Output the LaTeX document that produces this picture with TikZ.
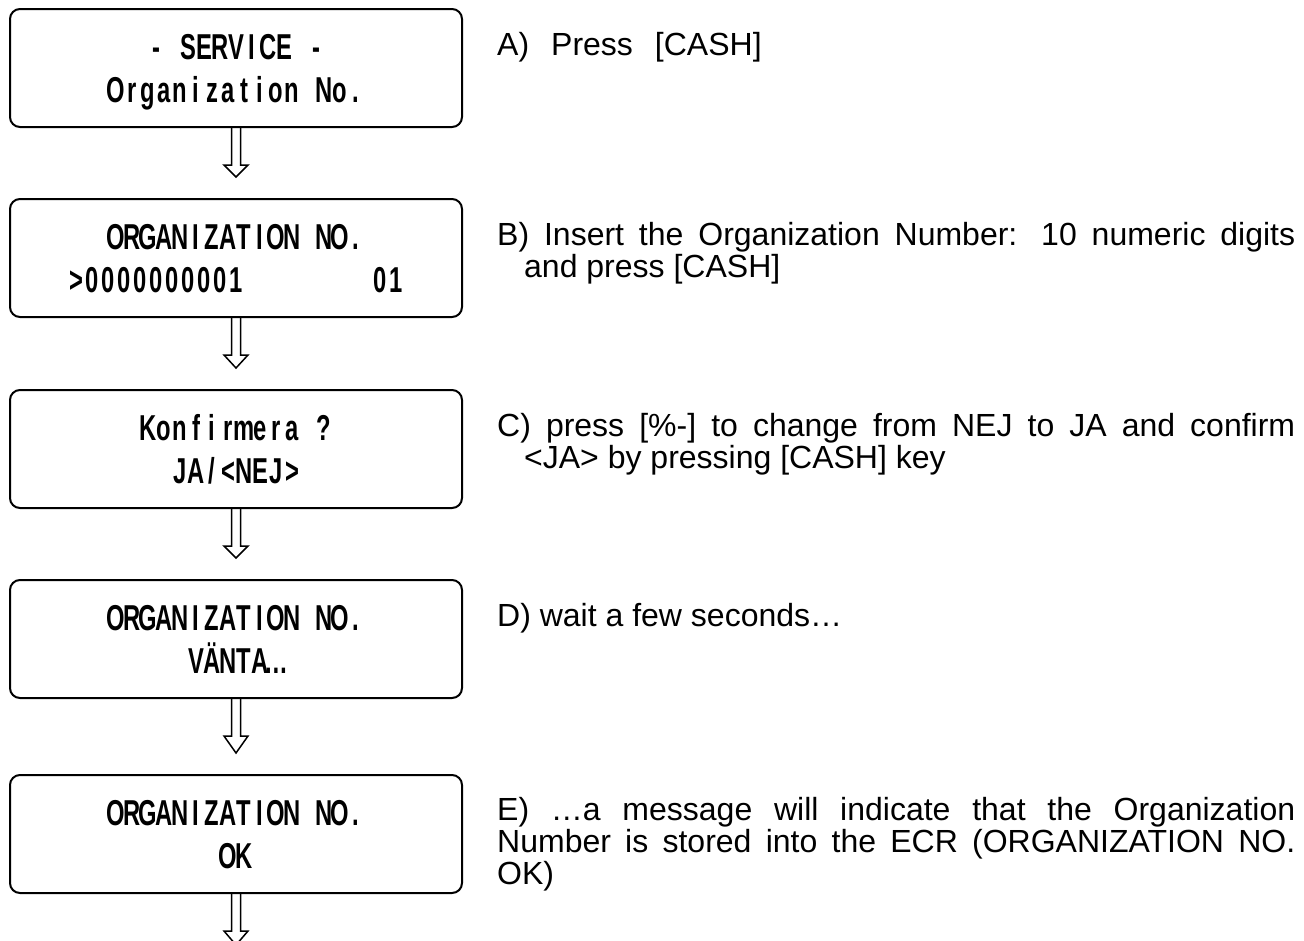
\documentclass[tikz,border=0pt]{standalone}
\usepackage{fontspec}
\usetikzlibrary{calc}
\setmainfont{Liberation Sans}
\newfontfamily\lcdfont[FakeStretch=0.66]{Liberation Sans}
\newfontfamily\descfont{Liberation Sans}
\makeatletter
% one fixed-width cell per character, like a character display
\newcommand\lcdrow[1]{\@tfor\lcdch:=#1\do{\makebox[16pt][c]{\lcdch}}}
\makeatother
% hollow block arrow hanging below a box, tip at the given point
\newcommand\flowarrow[2]{%
  \draw[blockarrow] ($(#1.south)+(-4.5,0)$) -- ($(#1.south)+(-4.5,37)$)
    -- ($(#1.south)+(-12,37)$) -- (#2) -- ($(#1.south)+(12,37)$)
    -- ($(#1.south)+(4.5,37)$) -- ($(#1.south)+(4.5,0)$);}
\begin{document}
\begin{tikzpicture}[x=1pt,y=-1pt,
  lcdbox/.style={draw, line width=2pt, rounded corners=10pt,
    minimum width=452pt, minimum height=118pt, inner sep=0pt},
  lcdtext/.style={font=\lcdfont\bfseries\fontsize{36}{43}\selectfont,
    anchor=base, inner sep=0pt},
  desc/.style={font=\descfont\fontsize{32}{32}\selectfont,
    anchor=base west, inner sep=0pt},
  blockarrow/.style={line width=1.5pt, line join=miter}]
\useasboundingbox (0,0) rectangle (1304,940);
\clip (0,0) rectangle (1304,940);

% display boxes
\node[lcdbox] (b1) at (236,68) {};
\node[lcdbox] (b2) at (236,258) {};
\node[lcdbox] (b3) at (236,449) {};
\node[lcdbox] (b4) at (236,639) {};
\node[lcdbox] (b5) at (236,834) {};

% display contents
\node[lcdtext] (b1a) at ($(b1.center)+(0,-8.6)$) {\lcdrow{-~SERVICE~-}};
\node[lcdtext] (b1b) at ($(b1.center)+(0,34.4)$) {\lcdrow{Organization~No.}};
\node[lcdtext] (b2a) at ($(b2.center)+(0,-8.6)$) {\lcdrow{ORGANIZATION~NO.}};
\node[lcdtext] (b2b) at ($(b2.center)+(0,34.4)$) {\lcdrow{>0000000001~~~~~~~~01}};
\node[lcdtext] (b3a) at ($(b3.center)+(0,-8.6)$) {\lcdrow{Konfirmera~?}};
\node[lcdtext] (b3b) at ($(b3.center)+(0,34.4)$) {\lcdrow{JA/<NEJ>}};
\node[lcdtext] (b4a) at ($(b4.center)+(0,-8.6)$) {\lcdrow{ORGANIZATION~NO.}};
\node[lcdtext] (b4b) at ($(b4.center)+(0,34.4)$) {\lcdrow{VÄNTA…}};
\node[lcdtext] (b5a) at ($(b5.center)+(0,-8.6)$) {\lcdrow{ORGANIZATION~NO.}};
\node[lcdtext] (b5b) at ($(b5.center)+(0,34.4)$) {\lcdrow{OK}};

% arrows between the steps
\coordinate (t2) at ($(b2.north)+(0,-21)$);
\coordinate (t3) at ($(b3.north)+(0,-21)$);
\coordinate (t4) at ($(b4.north)+(0,-21)$);
\coordinate (t5) at ($(b5.north)+(0,-21)$);
\coordinate (tend) at ($(b5.south)+(0,51)$);
\flowarrow{b1}{t2}
\flowarrow{b2}{t3}
\flowarrow{b3}{t4}
\flowarrow{b4}{t5}
\flowarrow{b5}{tend}

% step descriptions
\node[desc] (ta) at (497,55) {A)\hspace{22pt}Press\hspace{22pt}[CASH]};
\node[desc] (tb1) at (497,245) {\makebox[798pt][s]{B) Insert the Organization Number: 10 numeric digits}};
\node[desc] (tb2) at (524,277) {and press [CASH]};
\node[desc] (tc1) at (497,436) {\makebox[798pt][s]{C) press [\%-] to change from NEJ to JA and confirm}};
\node[desc] (tc2) at (524,468) {<JA> by pressing [CASH] key};
\node[desc] (td) at (497,626) {D) wait a few seconds…};
\node[desc] (te1) at (497,820) {\makebox[798pt][s]{E) …a message will indicate that the Organization}};
\node[desc] (te2) at (497,852) {\makebox[798pt][s]{Number is stored into the ECR (ORGANIZATION NO.}};
\node[desc] (te3) at (497,884) {OK)};
\end{tikzpicture}
\end{document}
